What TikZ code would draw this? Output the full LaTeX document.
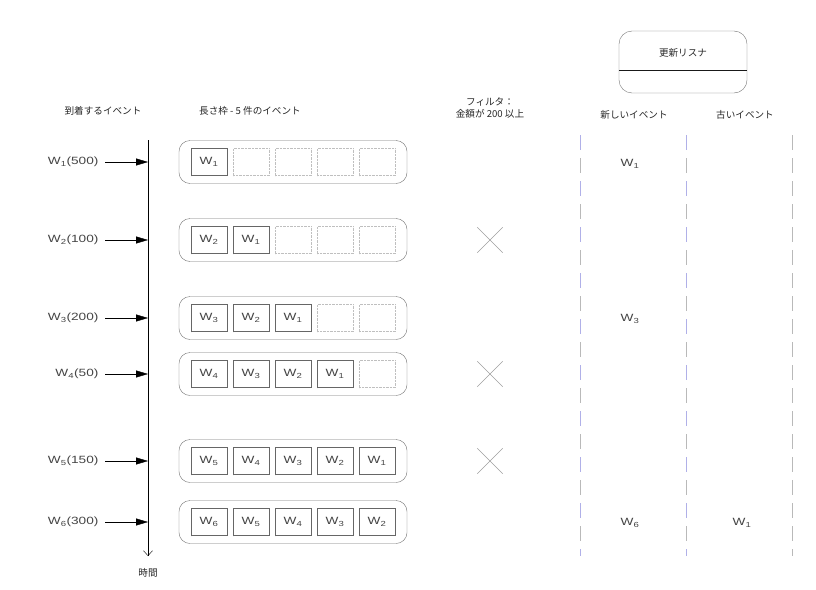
\documentclass[tikz,border=0pt]{standalone}
\usepackage{fontspec}
\setmainfont{Liberation Sans}
\newfontfamily\jp{Noto Sans CJK JP}
\newfontfamily\wide[FakeStretch=1.3]{Liberation Sans}
\usetikzlibrary{positioning,arrows.meta,shapes.misc}
\definecolor{txtgray}{HTML}{444444}
\definecolor{lavender}{HTML}{B0B0E8}
\newcommand{\ev}[1]{W\textsubscript{#1}}

\begin{document}
\begin{tikzpicture}[x=1pt,y=-1pt,node distance=42pt,on grid,
   font=\wide\fontsize{10.5}{12}\selectfont,text=txtgray,
   head/.style={font=\jp\fontsize{9.6}{11.5}\selectfont,text=black!85},
   winframe/.style={draw=gray!90!black,rounded corners=11pt,minimum width=228pt,minimum height=43pt},
   cell/.style={draw=gray!80!black,fill=white,minimum width=36pt,minimum height=27pt,inner sep=0pt},
   emptycell/.style={draw=gray!50,densely dotted,minimum width=36pt,minimum height=27pt,inner sep=0pt},
   lane/.style={draw=gray!55,dash pattern=on 15pt off 8pt,line width=0.8pt},
   lanetint/.style={draw=lavender,dash pattern=on 15pt off 31pt,line width=0.8pt},
   nope/.style={cross out,draw=gray!75,minimum size=25pt,inner sep=0pt}]
   \useasboundingbox (0,0) rectangle (816,589);
   % headings
   \node[head] (hin) at (103,111) {到着するイベント};
   \node[head] (hwin) at (250,111) {長さ枠 - 5 件のイベント};
   \node[head,align=center] (hflt) at (490,108) {フィルタ：\\金額が 200 以上};
   \node[head] (hnew) at (634,115) {新しいイベント};
   \node[head] (hold) at (745,115) {古いイベント};
   % update listener
   \node[draw=gray!90!black,rounded corners=13pt,minimum width=128pt,minimum height=62pt] (lsn) at (683,62) {};
   \node[head] (lsnt) at (683,53) {更新リスナ};
   \draw[gray!20!black] ([yshift=-8pt]lsn.west) -- ([yshift=-8pt]lsn.east);
   % time axis
   \coordinate (top) at (148,140);
   \coordinate (bot) at (148,556);
   \draw[-{Straight Barb[length=5pt,width=9pt]}] (top) -- (bot);
   \node[head] (time) at (148,573) {時間};
   % output lanes
   \foreach \x/\n in {580/a,686/b,792/c} {
      \coordinate (\n1) at (\x,135);
      \coordinate (\n2) at (\x,556);
      \draw[lane] (\n1) -- (\n2);
   }
   \draw[lanetint] (a1) -- (a2);
   \draw[lanetint] (b1) -- (b2);
   % rows of the length window
   \foreach \r/\y/\amt/\items in {1/162/500/{1},2/240/100/{2,1},3/318/200/{3,2,1},
         4/374/50/{4,3,2,1},5/461/150/{5,4,3,2,1},6/522/300/{6,5,4,3,2}} {
      \node[anchor=east] (l\r) at (102,\y) {\ev{\r}(\amt)};
      \coordinate (t\r) at (148,\y);
      \draw[-{Triangle[length=12pt,width=7pt]},shorten <=3pt] (l\r.east) -- (t\r);
      \node[winframe] (f\r) at (293,\y) {};
      \node[emptycell] (c\r1) at (209,\y) {};
      \foreach \k [remember=\k as \p (initially 1)] in {2,...,5}
         \node[emptycell,right=of c\r\p] (c\r\k) {};
      \foreach \v [count=\k] in \items
         \node[cell] at (c\r\k) {\ev{\v}};
   }
   % filter rejects
   \node[nope] (x2) at (490,240) {};
   \node[nope] (x4) at (490,374) {};
   \node[nope] (x5) at (490,461) {};
   % listener output
   \node (n1) at (630,164) {\ev{1}};
   \node (n3) at (630,319) {\ev{3}};
   \node (n6) at (630,523) {\ev{6}};
   \node (o1) at (742,523) {\ev{1}};
\end{tikzpicture}
\end{document}
